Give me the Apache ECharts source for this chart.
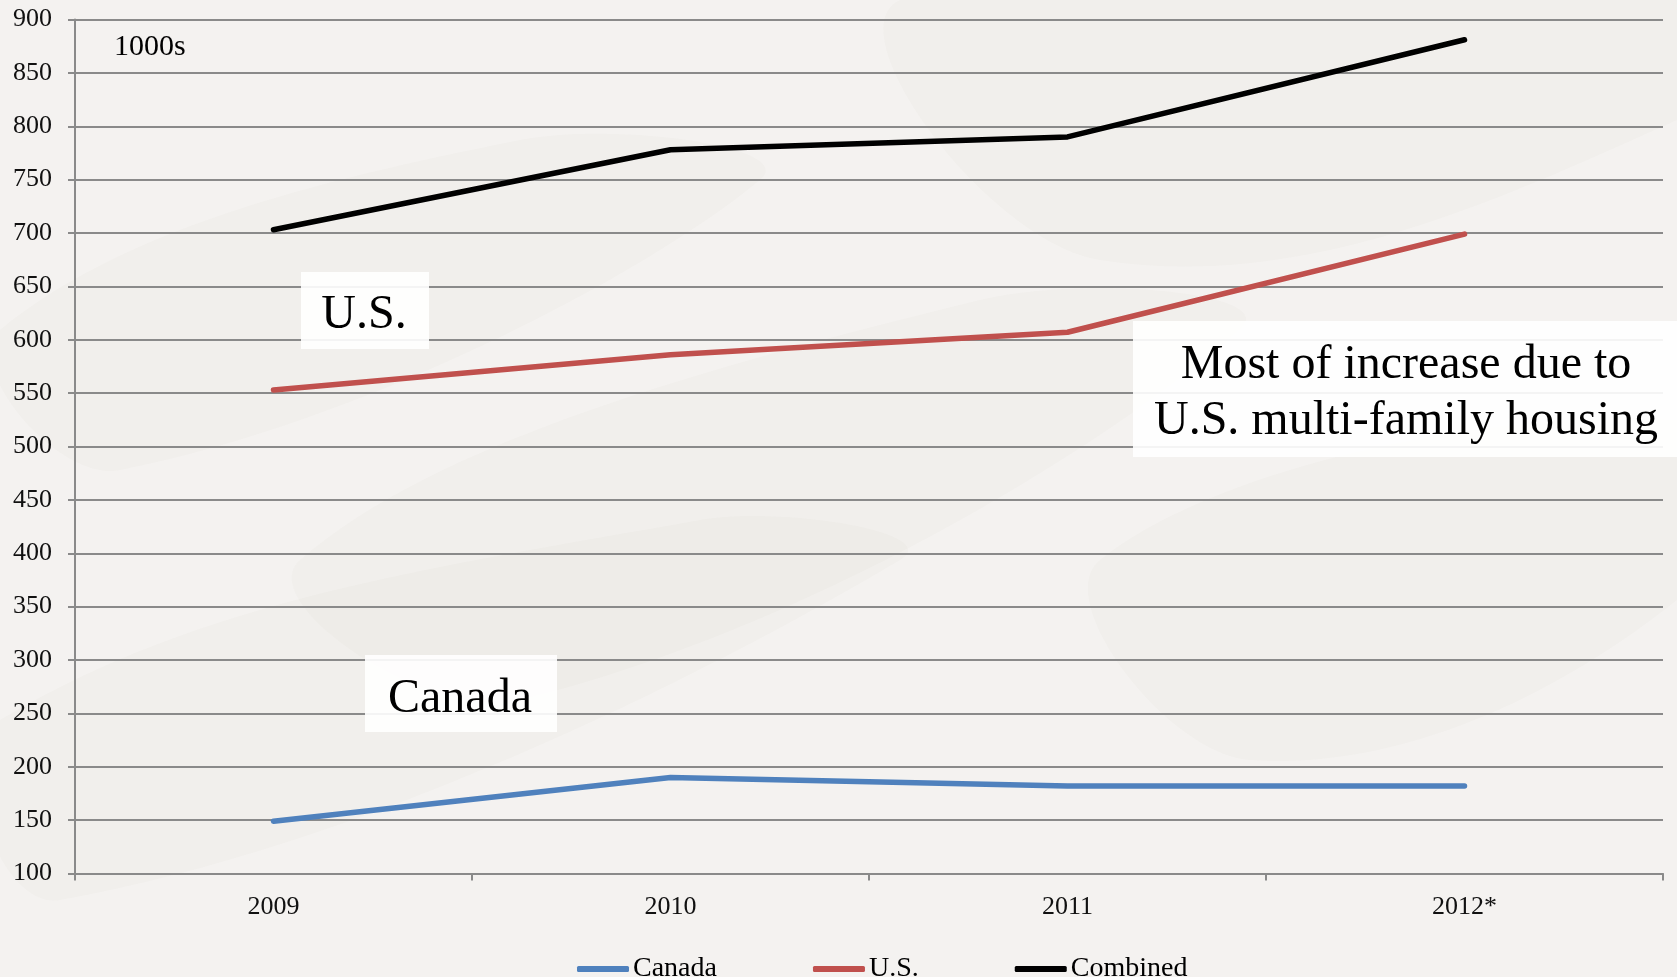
<!DOCTYPE html>
<html>
<head>
<meta charset="utf-8">
<title>Housing starts: Canada, U.S. and combined</title>
<script src="https://cdn.jsdelivr.net/npm/echarts@6/dist/echarts.min.js"></script>
<style>
  html, body { margin: 0; padding: 0; background: #f4f2f0; }
  #chart { width: 1677px; height: 977px; }
</style>
</head>
<body>
<div id="chart"></div>
<script>
// Housing starts, thousands of units
const years = ['2009', '2010', '2011', '2012*'];
const canada = [149, 190, 182, 182];
const us = [553, 586, 607, 699];
const combined = [703, 778, 790, 881];

const seriesNames = ['Canada', 'U.S.', 'Combined'];
const seriesColors = ['#4f81bd', '#c0504d', '#000000'];

const unitLabel = '1000s';
const noteUS = 'U.S.';
const noteCanada = 'Canada';
const noteIncrease = ['Most of increase due to', 'U.S. multi-family housing'];

const serif = '"Liberation Serif", "Times New Roman", "DejaVu Serif", serif';
const gridColor = '#8a8a8a';

const chart = echarts.init(document.getElementById('chart'), null, { renderer: 'canvas' });

function lineSeries(name, data, color) {
  return {
    name: name,
    type: 'line',
    data: data,
    symbol: 'none',
    smooth: false,
    z: 5,
    lineStyle: { color: color, width: 5.5, cap: 'round', join: 'round' },
    itemStyle: { color: color },
    emphasis: { disabled: true }
  };
}

// very faint texture of the faded photo behind the plot
const textureShapes = [
  [[0, 330], [520, 140], [760, 180], [120, 470]],
  [[300, 560], [980, 300], [1240, 330], [520, 700]],
  [[900, 0], [1677, 0], [1677, 120], [1100, 260]],
  [[0, 720], [700, 520], [900, 560], [60, 900]],
  [[1100, 560], [1677, 420], [1677, 600], [1250, 760]]
].map(pts => ({
  type: 'polygon',
  silent: true,
  z: -10,
  shape: { points: pts, smooth: 0.4 },
  style: { fill: 'rgba(90, 80, 75, 0.018)' }
}));

function noteBox(x, y, w, h) {
  return {
    type: 'rect',
    silent: true,
    z: 10,
    shape: { x: x, y: y, width: w, height: h },
    style: { fill: 'rgba(255,255,255,0.9)' }
  };
}

function noteText(text, x, y, size) {
  return {
    type: 'text',
    silent: true,
    z: 11,
    x: x,
    y: y,
    style: {
      text: text,
      font: size + 'px ' + serif,
      fill: '#000',
      align: 'center',
      verticalAlign: 'middle'
    }
  };
}

const option = {
  backgroundColor: '#f4f2f0',
  animation: false,
  grid: {
    left: 75,
    right: 14,
    top: 19.5,
    bottom: 103.5,
    containLabel: false,
    outerBoundsMode: 'none'
  },
  legend: {
    data: seriesNames,
    left: 572,
    top: 950,
    itemWidth: 52,
    itemHeight: 6,
    itemGap: 96,
    icon: 'roundRect',
    textStyle: { fontFamily: serif, fontSize: 28, color: '#000', padding: [0, 0, 0, -1] }
  },
  xAxis: {
    type: 'category',
    data: years,
    boundaryGap: true,
    axisLine: { show: true, lineStyle: { color: gridColor, width: 2 } },
    axisTick: { show: true, length: 7, interval: 0, lineStyle: { color: gridColor, width: 2 } },
    axisLabel: { fontFamily: serif, fontSize: 26, color: '#111', margin: 21, interval: 0 },
    splitLine: { show: false }
  },
  yAxis: {
    type: 'value',
    min: 100,
    max: 900,
    interval: 50,
    axisLine: { show: true, lineStyle: { color: gridColor, width: 2 } },
    axisTick: { show: true, length: 7, lineStyle: { color: gridColor, width: 2 } },
    axisLabel: { fontFamily: serif, fontSize: 26, color: '#111', margin: 23 },
    splitLine: { show: true, lineStyle: { color: gridColor, width: 2 } }
  },
  series: [
    lineSeries(seriesNames[0], canada, seriesColors[0]),
    lineSeries(seriesNames[1], us, seriesColors[1]),
    lineSeries(seriesNames[2], combined, seriesColors[2])
  ],
  graphic: textureShapes.concat([
    {
      type: 'text',
      silent: true,
      z: 11,
      x: 114,
      y: 47,
      style: {
        text: unitLabel,
        font: '30px ' + serif,
        fill: '#000',
        align: 'left',
        verticalAlign: 'middle'
      }
    },
    noteBox(301, 272, 128, 77),
    noteText(noteUS, 364, 315, 48),
    noteBox(365, 655, 192, 77),
    noteText(noteCanada, 460, 699, 48),
    noteBox(1133, 321, 544, 136),
    noteText(noteIncrease[0], 1406, 365, 48),
    noteText(noteIncrease[1], 1406, 421, 48)
  ])
};

chart.setOption(option);
</script>
</body>
</html>
